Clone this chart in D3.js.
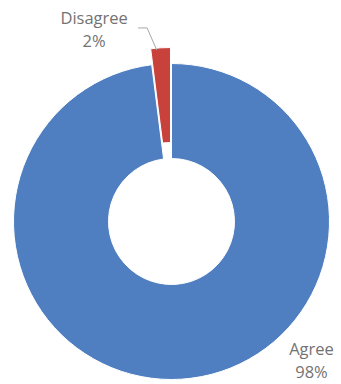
<!DOCTYPE html>
<html>
<head>
<meta charset="utf-8">
<script src="https://cdn.jsdelivr.net/npm/d3@7"></script>
<style>
  html, body { margin: 0; padding: 0; background: #ffffff; }
  svg { display: block; }
  text { font-family: "Open Sans", "Liberation Sans", sans-serif; }
</style>
</head>
<body>
<svg id="chart" width="341" height="384"></svg>
<script>
// Survey response shares
const categories = ["Agree", "Disagree"];
const values = [98, 2];
const percentLabels = ["98%", "2%"];
const colors = ["#4f7fc1", "#c8413b"];

const width = 341, height = 384;
const cx = 171.5, cy = 221.5;
const outerR = 158, innerR = 63;
const explode = [0, 16];          // Disagree slice is pulled out from the ring
// label placement (angle in radians clockwise from 12 o'clock, radius)
const labelPolar = [[134.9 * Math.PI / 180, 197.6], [-22.0 * Math.PI / 180, 206.6]];

const svg = d3.select("#chart");
const g = svg.append("g").attr("transform", `translate(${cx},${cy})`);

const pie = d3.pie().sort(null).value(d => d).startAngle(0).endAngle(2 * Math.PI);
const arcs = pie(values);
const arc = d3.arc().innerRadius(innerR).outerRadius(outerR);

g.selectAll("path.slice")
  .data(arcs)
  .enter().append("path")
  .attr("class", "slice")
  .attr("d", arc)
  .attr("fill", (d, i) => colors[i])
  .attr("stroke", "#ffffff")
  .attr("stroke-width", 1)
  .attr("transform", (d, i) => {
    const mid = (d.startAngle + d.endAngle) / 2;
    const [x, y] = d3.pointRadial(mid, explode[i]);
    return `translate(${x},${y})`;
  });

// Leader line from the Disagree label down to its slice
const dis = arcs[1];
const disMid = (dis.startAngle + dis.endAngle) / 2;
const [ox, oy] = d3.pointRadial(disMid, explode[1]);
const [ex, ey] = d3.pointRadial(dis.startAngle + (dis.endAngle - dis.startAngle) * 0.3, outerR - 2);
const [lx, ly] = d3.pointRadial(labelPolar[1][0], labelPolar[1][1]);
g.append("path")
  .attr("d", d3.line()([[lx + 44, ly - 2], [lx + 53, ly - 2], [ex + ox, ey + oy]]))
  .attr("fill", "none")
  .attr("stroke", "#a6a6a6")
  .attr("stroke-width", 1);

// Category and percentage labels
arcs.forEach((d, i) => {
  const [x, y] = d3.pointRadial(labelPolar[i][0], labelPolar[i][1]);
  const t = g.append("text")
    .attr("x", x).attr("y", y)
    .attr("text-anchor", "middle")
    .attr("fill", "#737373")
    .style("font-size", "16.5px");
  t.append("tspan").attr("x", x).attr("dy", -6).text(categories[i]);
  t.append("tspan").attr("x", x).attr("dy", 23).text(percentLabels[i]);
});
</script>
</body>
</html>
